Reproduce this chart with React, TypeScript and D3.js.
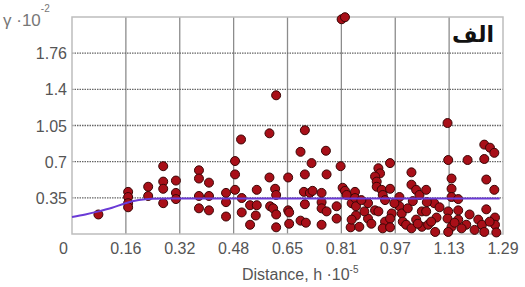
import React, { useRef, useEffect } from "react";
import * as d3 from "d3";

// variogram cloud: lag distance (h·10^-5) and semivariance (γ·10^-2)
const distances = [
    0.079,
    0.168, 0.168, 0.168, 0.168,
    0.228, 0.228,
    0.273, 0.273, 0.273, 0.273,
    0.311, 0.311, 0.311,
    0.380, 0.380, 0.380, 0.380,
    0.410, 0.410, 0.410,
    0.461, 0.461, 0.461,
    0.488, 0.488, 0.488,
    0.506, 0.508, 0.508,
    0.533, 0.533,
    0.553, 0.553, 0.550,
    0.591, 0.591, 0.593, 0.602,
    0.608, 0.611, 0.611, 0.611, 0.611,
    0.647, 0.647, 0.650, 0.650,
    0.684, 0.697, 0.760, 0.717, 0.804,
    0.697, 0.762,
    0.694, 0.712, 0.747, 0.720,
    0.810, 0.817,
    0.697, 0.747, 0.747, 0.762, 0.792, 0.792,
    0.684, 0.700, 0.747, 0.834,
    0.837, 0.822,
    0.807, 0.817,
    0.952, 0.917, 0.922, 0.907, 0.912, 0.912, 0.927, 0.952, 0.930, 0.937,
    1.016, 1.016, 1.030, 1.040, 0.980, 0.980,
    0.847, 0.847, 0.850, 0.850, 0.860,
    0.886, 0.886, 0.907, 0.917, 0.937, 0.930,
    0.957, 0.952, 0.952,
    0.987, 0.990, 1.000, 1.016, 1.030, 1.047, 1.047, 0.837,
    0.866, 0.875, 0.896, 0.965, 1.005, 1.020, 1.035,
    1.124,
    1.126, 1.184, 1.234, 1.234, 1.251, 1.264,
    1.136, 1.136, 1.240, 1.264, 1.060,
    1.136, 1.156, 1.084, 1.062,
    1.240, 1.266, 1.091, 1.126, 1.156,
    1.124, 1.156, 1.180, 1.136, 1.066, 1.087, 1.126,
    1.216, 1.227, 1.234, 1.266, 1.270, 1.205, 1.166, 1.060,
    1.100, 1.190, 1.250, 1.075, 1.145,
];

const gammas = [
    0.19,
    0.41, 0.36, 0.30, 0.26,
    0.46, 0.37,
    0.66, 0.51, 0.44, 0.30,
    0.52, 0.40, 0.34,
    0.62, 0.54, 0.37, 0.25,
    0.50, 0.37, 0.23,
    0.40, 0.31, 0.17,
    0.71, 0.58, 0.43,
    0.92, 0.35, 0.21,
    0.28, 0.09,
    0.43, 0.28, 0.18,
    0.98, 0.55, 0.27, 0.25,
    0.44, 0.38, 0.19, 0.065, 1.35,
    0.55, 0.23, 0.21, 0.10,
    0.80, 1.01, 0.81, 0.69, 0.66,
    0.58, 0.58,
    0.41, 0.40, 0.40, 0.42,
    0.45, 0.42,
    0.29, 0.31, 0.25, 0.22, 0.27, 0.15,
    0.13, 0.11, 0.09, 0.065,
    0.30, 0.38,
    2.09, 2.11,
    0.69, 0.64, 0.59, 0.56, 0.51, 0.46, 0.43, 0.44, 0.38, 0.33,
    0.60, 0.48, 0.43, 0.38, 0.36, 0.27,
    0.41, 0.35, 0.27, 0.18, 0.07,
    0.30, 0.15, 0.23, 0.22, 0.12, 0.055,
    0.20, 0.15, 0.065,
    0.20, 0.12, 0.09, 0.055, 0.14, 0.22, 0.07, 0.14,
    0.33, 0.22, 0.10, 0.30, 0.25, 0.32, 0.10,
    1.08,
    0.72, 0.72, 0.73, 0.87, 0.84, 0.79,
    0.54, 0.44, 0.53, 0.43, 0.43,
    0.36, 0.34, 0.30, 0.31,
    0.24, 0.16, 0.16, 0.22, 0.23,
    0.15, 0.14, 0.09, 0.07, 0.09, 0.02, 0.02,
    0.14, 0.09, 0.02, 0.09, 0.015, 0.04, 0.055, 0.22,
    0.26, 0.19, 0.12, 0.12, 0.11,
];

// fitted model curve
const modelX = [0, 0.04, 0.08, 0.12, 0.16, 0.2, 0.24, 0.3, 1.28];
const modelY = [0.165, 0.19, 0.22, 0.255, 0.3, 0.33, 0.342, 0.345, 0.345];

const xTickLabels = ["0", "0.16", "0.32", "0.48", "0.65", "0.81", "0.97", "1.13", "1.29"];
const yTickValues = [0.352, 0.704, 1.056, 1.408, 1.76];
const yTickLabels = ["0.35", "0.7", "1.05", "1.4", "1.76"];

const App: React.FC = () => {
    const chartRef = useRef<SVGSVGElement>(null);

    useEffect(() => {
        if (!chartRef.current) return;
        const svg = d3.select(chartRef.current);
        svg.selectAll("*").remove();

        const left = 72, right = 503, top = 17, bottom = 234;
        const font = "Liberation Sans, Arial, sans-serif";

        const x = d3.scaleLinear().domain([0, 1.29]).range([left, right]);
        const y = d3.scaleLinear().domain([0, 2.112]).range([bottom, top]);
        const xTicks = xTickLabels.map((_, i) => (i * 1.29) / 8);

        svg.append("rect")
            .attr("width", 525).attr("height", 287).attr("fill", "white");

        // vertical grid (solid)
        svg.selectAll("line.vgrid")
            .data(xTicks.slice(1, -1))
            .enter().append("line")
            .attr("x1", d => x(d)).attr("x2", d => x(d))
            .attr("y1", top).attr("y2", bottom)
            .attr("stroke", "#8c8c8c").attr("stroke-width", 1.3);

        // horizontal grid (dotted)
        svg.selectAll("line.hgrid")
            .data(yTickValues)
            .enter().append("line")
            .attr("x1", left).attr("x2", right)
            .attr("y1", d => y(d)).attr("y2", d => y(d))
            .attr("stroke", "#666").attr("stroke-width", 1.3)
            .attr("stroke-dasharray", "1.5,1");

        // frame
        svg.append("rect")
            .attr("x", left).attr("y", top)
            .attr("width", right - left).attr("height", bottom - top)
            .attr("fill", "none").attr("stroke", "#bdbdbd").attr("stroke-width", 1.5);

        // points
        svg.selectAll("circle.pt")
            .data(distances.map((d, i) => [d, gammas[i]]))
            .enter().append("circle")
            .attr("cx", d => x(d[0]))
            .attr("cy", d => y(d[1]))
            .attr("r", 4.5)
            .attr("fill", "#a80f18")
            .attr("stroke", "#3a0606")
            .attr("stroke-width", 1);

        // model line
        const line = d3.line<number>()
            .x((_, i) => x(modelX[i]))
            .y(d => y(d))
            .curve(d3.curveMonotoneX);
        svg.append("path")
            .attr("d", line(modelY))
            .attr("fill", "none")
            .attr("stroke", "#6a3ad6")
            .attr("stroke-width", 2);

        // x tick labels
        svg.selectAll("text.xt")
            .data(xTicks)
            .enter().append("text")
            .attr("x", (d, i) => (i === 0 ? x(d) - 4 : x(d)))
            .attr("y", 254)
            .attr("text-anchor", (_, i) => (i === 0 ? "end" : "middle"))
            .style("font-family", font).style("font-size", "16px").style("fill", "#555")
            .text((_, i) => xTickLabels[i]);

        // y tick labels
        svg.selectAll("text.yt")
            .data(yTickValues)
            .enter().append("text")
            .attr("x", 67)
            .attr("y", d => y(d) + 6)
            .attr("text-anchor", "end")
            .style("font-family", font).style("font-size", "16px").style("fill", "#555")
            .text((_, i) => yTickLabels[i]);

        // axis titles
        const xt = svg.append("text")
            .attr("x", 242).attr("y", 280)
            .style("font-family", font).style("font-size", "16px").style("fill", "#555");
        xt.append("tspan").text("Distance, h ·10");
        xt.append("tspan").attr("dy", -7).style("font-size", "10px").text("-5");

        const yt = svg.append("text")
            .attr("x", 3).attr("y", 26)
            .style("font-family", font).style("font-size", "17px").style("fill", "#777");
        yt.append("tspan").text("γ ·10");
        yt.append("tspan").attr("dy", -14).style("font-size", "10px").text("-2");

        // panel label
        svg.append("text")
            .attr("x", 494).attr("y", 42)
            .attr("text-anchor", "end")
            .style("font-family", "DejaVu Sans, sans-serif")
            .style("font-size", "22px").style("font-weight", "bold").style("fill", "#111")
            .text("الف");
    }, []);

    return (
        <svg
            ref={chartRef}
            width={525}
            height={287}
            style={{ position: "absolute", left: 0, top: 0 }}
        />
    );
};

export default App;
